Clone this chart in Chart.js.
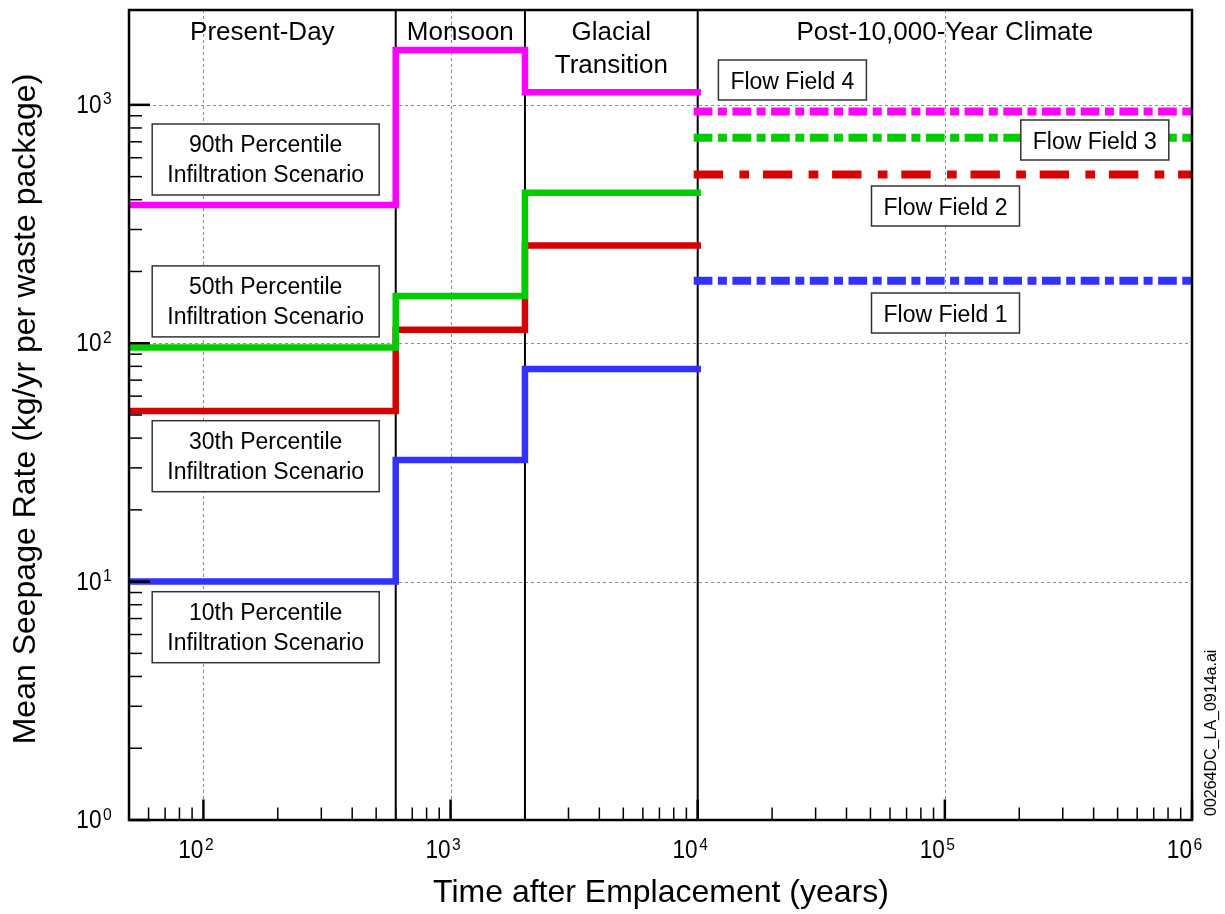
<!DOCTYPE html>
<html>
<head>
<meta charset="utf-8">
<title>Mean Seepage Rate</title>
<script src="https://cdn.jsdelivr.net/npm/chart.js@4.4.0/dist/chart.umd.min.js"></script>
<style>
  html, body { margin: 0; padding: 0; background: #fff; }
  #wrap { width: 1225px; height: 914px; }
</style>
</head>
<body>
<div id="wrap"><canvas id="c" width="1225" height="914"></canvas></div>
<script>
// Climate periods (years after emplacement)
const periodBounds = [50, 600, 2000, 10000, 1000000];
const periodNames = [['Present-Day'], ['Monsoon'], ['Glacial', 'Transition'], ['Post-10,000-Year Climate']];

// Mean seepage (kg/yr per waste package) for present-day, monsoon, glacial transition
const scenarioNames = ['10th Percentile', '30th Percentile', '50th Percentile', '90th Percentile'];
const seep10 = [10, 32.4, 78];
const seep30 = [52, 114, 257];
const seep50 = [96, 158, 428];
const seep90 = [380, 1700, 1130];

// Post-10,000-year flow fields
const flowFieldNames = ['Flow Field 1', 'Flow Field 2', 'Flow Field 3', 'Flow Field 4'];
const flowFieldRates = [183, 510, 727, 937];

// Axis decades
const xDecades = [100, 1000, 10000, 100000, 1000000];
const yDecades = [1, 10, 100, 1000];
const X_MIN = 50, X_MAX = 1000000, Y_MIN = 1, Y_MAX = 2500;

const FONT = '"Liberation Sans", Arial, Helvetica, sans-serif';
const seriesColors = ['#3232ff', '#d60000', '#00cc00', '#ff00ff'];
const dashLong = [10.7, 13.5, 1, 13.5];
const dashRed = [21.4, 24.3, 1.7, 21.8];

function stepSeries(vals) {
  const pts = vals.map((v, i) => ({ x: periodBounds[i], y: v }));
  pts.push({ x: periodBounds[3], y: vals[vals.length - 1] });
  return pts;
}
function flatSeries(v) {
  return [{ x: periodBounds[3], y: v }, { x: periodBounds[4], y: v }];
}

const seepSeries = [seep10, seep30, seep50, seep90];
const drawOrder = [4, 3, 2, 1];
const datasets = [];
seepSeries.forEach((vals, i) => {
  datasets.push({
    label: scenarioNames[i],
    data: stepSeries(vals),
    stepped: true,
    borderColor: seriesColors[i],
    borderWidth: 6.5,
    borderCapStyle: 'square',
    borderJoinStyle: 'miter',
    pointRadius: 0,
    fill: false,
    clip: 0,
    order: drawOrder[i]
  });
});
flowFieldRates.forEach((v, i) => {
  datasets.push({
    label: flowFieldNames[i],
    data: flatSeries(v),
    borderColor: seriesColors[i],
    borderWidth: 8,
    borderDash: i === 1 ? dashRed : dashLong,
    borderCapStyle: 'square',
    pointRadius: 0,
    fill: false,
    clip: 0,
    order: drawOrder[i]
  });
});

function minorValues(lo, hi) {
  const out = [];
  for (let e = -1; e <= 7; e++) {
    for (let m = 2; m <= 9; m++) {
      const v = m * Math.pow(10, e);
      if (v >= lo && v <= hi) out.push(v);
    }
  }
  return out;
}

// "10" in a narrow face with a raised exponent
function tickLabel(ctx, x, baseline, exp) {
  ctx.save();
  ctx.fillStyle = '#000';
  ctx.font = '26px ' + FONT;
  ctx.textBaseline = 'alphabetic';
  ctx.textAlign = 'right';
  ctx.translate(x, baseline);
  ctx.scale(0.87, 1);
  ctx.fillText('10', 0, 0);
  ctx.restore();
  ctx.save();
  ctx.fillStyle = '#000';
  ctx.font = '17px ' + FONT;
  ctx.textAlign = 'left';
  ctx.textBaseline = 'alphabetic';
  ctx.translate(x + 1.5, baseline - 8.5);
  ctx.scale(0.92, 1);
  ctx.fillText(String(exp), 0, 0);
  ctx.restore();
}

function labelBox(ctx, cx, cy, w, h, lines) {
  ctx.save();
  ctx.fillStyle = '#fff';
  ctx.strokeStyle = '#333';
  ctx.lineWidth = 1.5;
  ctx.fillRect(cx - w / 2, cy - h / 2, w, h);
  ctx.strokeRect(cx - w / 2, cy - h / 2, w, h);
  ctx.fillStyle = '#000';
  ctx.font = '23px ' + FONT;
  ctx.textAlign = 'center';
  ctx.textBaseline = 'alphabetic';
  if (lines.length === 1) {
    ctx.fillText(lines[0], cx, cy + 8.5);
  } else {
    ctx.fillText(lines[0], cx, cy - 7.5);
    ctx.fillText(lines[1], cx, cy + 22.5);
  }
  ctx.restore();
}

const decor = {
  id: 'decor',
  beforeDatasetsDraw(chart) {
    const { ctx, chartArea: a, scales: { x, y } } = chart;
    ctx.save();
    // decade grid
    ctx.strokeStyle = '#8a8a8a';
    ctx.lineWidth = 1;
    ctx.setLineDash([3, 3]);
    xDecades.forEach(v => {
      if (v === periodBounds[3] || v === X_MAX) return;
      const px = Math.round(x.getPixelForValue(v)) + 0.5;
      ctx.beginPath(); ctx.moveTo(px, a.top); ctx.lineTo(px, a.bottom); ctx.stroke();
    });
    yDecades.forEach(v => {
      if (v === Y_MIN) return;
      const py = Math.round(y.getPixelForValue(v)) + 0.5;
      ctx.beginPath(); ctx.moveTo(a.left, py); ctx.lineTo(a.right, py); ctx.stroke();
    });
    ctx.setLineDash([]);
    // climate period dividers
    ctx.strokeStyle = '#000';
    ctx.lineWidth = 2;
    periodBounds.slice(1, 4).forEach(v => {
      const px = x.getPixelForValue(v);
      ctx.beginPath(); ctx.moveTo(px, a.top); ctx.lineTo(px, a.bottom); ctx.stroke();
    });
    ctx.restore();
  },
  afterDatasetsDraw(chart) {
    const { ctx, chartArea: a, scales: { x, y } } = chart;
    ctx.save();
    // plot frame
    ctx.strokeStyle = '#000';
    ctx.lineWidth = 2.5;
    ctx.strokeRect(a.left, a.top, a.right - a.left, a.bottom - a.top);

    // inward ticks, x axis
    ctx.lineWidth = 1.5;
    minorValues(X_MIN * 1.0001, X_MAX / 1.0001).forEach(v => {
      const px = x.getPixelForValue(v);
      ctx.beginPath(); ctx.moveTo(px, a.bottom); ctx.lineTo(px, a.bottom - 12.5); ctx.stroke();
    });
    ctx.lineWidth = 2.5;
    xDecades.forEach(v => {
      const px = x.getPixelForValue(v);
      ctx.beginPath(); ctx.moveTo(px, a.bottom); ctx.lineTo(px, a.bottom - 20.5); ctx.stroke();
    });
    // inward ticks, y axis (minor ticks only below 10^3)
    ctx.lineWidth = 1.5;
    minorValues(Y_MIN, 1000).forEach(v => {
      const py = y.getPixelForValue(v);
      ctx.beginPath(); ctx.moveTo(a.left, py); ctx.lineTo(a.left + 13, py); ctx.stroke();
    });
    ctx.lineWidth = 2.5;
    yDecades.forEach(v => {
      const py = y.getPixelForValue(v);
      ctx.beginPath(); ctx.moveTo(a.left, py); ctx.lineTo(a.left + 21, py); ctx.stroke();
    });
    ctx.restore();

    // tick labels
    xDecades.forEach(v => {
      tickLabel(ctx, x.getPixelForValue(v), a.bottom + 38, Math.round(Math.log10(v)));
    });
    yDecades.forEach(v => {
      tickLabel(ctx, a.left - 27.5, y.getPixelForValue(v) + 8, Math.round(Math.log10(v)));
    });

    // period headers
    ctx.save();
    ctx.fillStyle = '#000';
    ctx.font = '26px ' + FONT;
    ctx.textAlign = 'center';
    ctx.textBaseline = 'alphabetic';
    periodNames.forEach((lines, i) => {
      const cx = (x.getPixelForValue(periodBounds[i]) + x.getPixelForValue(periodBounds[i + 1])) / 2;
      lines.forEach((t, k) => ctx.fillText(t, cx, a.top + 30 + k * 32.5));
    });
    ctx.restore();

    // scenario labels
    const scenarioBoxY = [627.2, 456.2, 301.4, 159.5];
    scenarioNames.forEach((n, i) => {
      labelBox(ctx, 265.7, scenarioBoxY[i], 227, 71, [n, 'Infiltration Scenario']);
    });
    // flow field labels
    const ffBoxes = [[945.5, 313], [945.5, 206], [1094.8, 140], [792.4, 80]];
    flowFieldNames.forEach((n, i) => {
      labelBox(ctx, ffBoxes[i][0], ffBoxes[i][1], 148, 40, [n]);
    });

    // axis titles
    ctx.save();
    ctx.fillStyle = '#000';
    ctx.font = '32px ' + FONT;
    ctx.textAlign = 'center';
    ctx.textBaseline = 'alphabetic';
    ctx.fillText('Time after Emplacement (years)', 661, 902);
    ctx.translate(35, 409);
    ctx.rotate(-Math.PI / 2);
    ctx.fillText('Mean Seepage Rate (kg/yr per waste package)', 0, 0);
    ctx.restore();

    // drawing id
    ctx.save();
    ctx.fillStyle = '#000';
    ctx.font = '16px ' + FONT;
    ctx.textAlign = 'left';
    ctx.textBaseline = 'alphabetic';
    ctx.translate(1216, 816);
    ctx.rotate(-Math.PI / 2);
    ctx.fillText('00264DC_LA_0914a.ai', 0, 0);
    ctx.restore();
  }
};

new Chart(document.getElementById('c'), {
  type: 'line',
  data: { datasets },
  options: {
    responsive: false,
    animation: false,
    devicePixelRatio: 1,
    layout: { padding: { left: 129, right: 33, top: 10, bottom: 94 } },
    plugins: { legend: { display: false }, tooltip: { enabled: false } },
    scales: {
      x: { type: 'logarithmic', min: X_MIN, max: X_MAX, display: false },
      y: { type: 'logarithmic', min: Y_MIN, max: Y_MAX, display: false }
    }
  },
  plugins: [decor]
});
</script>
</body>
</html>
